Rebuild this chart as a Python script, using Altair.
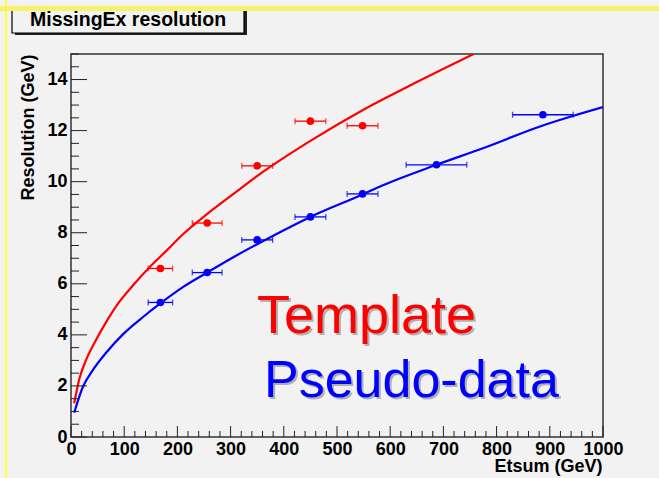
import altair as alt
import pandas as pd

# ---------------- data ----------------
tmpl_x = [168, 256, 350, 450, 548]
tmpl_y = [6.6, 8.38, 10.62, 12.37, 12.19]
tmpl_ex = [23, 28, 29, 29, 29]

pseudo_x = [168, 256, 350, 450, 548, 687, 887]
pseudo_y = [5.27, 6.44, 7.72, 8.62, 9.52, 10.66, 12.62]
pseudo_ex = [23, 28, 29, 29, 29, 57, 57]

tmpl_curve_x = [6, 16, 28, 47, 66, 91, 117, 148, 180, 211, 255, 306, 362, 450, 548, 650, 757]
tmpl_curve_y = [1.32, 2.3, 3.0, 3.8, 4.5, 5.3, 5.95, 6.66, 7.31, 7.95, 8.72, 9.53, 10.4, 11.6, 12.8, 13.9, 15.0]

pseudo_curve_x = [6, 22, 41, 66, 98, 136, 169, 211, 255, 306, 350, 400, 450, 548, 584, 687, 773, 887, 943, 1000]
pseudo_curve_y = [0.95, 1.95, 2.62, 3.3, 4.03, 4.71, 5.25, 5.88, 6.43, 7.05, 7.55, 8.1, 8.62, 9.5, 9.84, 10.66, 11.3, 12.2, 12.57, 12.92]

x_label_values = [0, 100, 200, 300, 400, 500, 600, 700, 800, 900, 1000]
y_label_values = [0, 2, 4, 6, 8, 10, 12, 14]
x_major_ticks = x_label_values
x_minor_ticks = [v for v in range(0, 1001, 20) if v % 100 != 0]
y_major_ticks = y_label_values
y_minor_ticks = [v / 2 for v in range(0, 31) if v % 4 != 0]

title_text = "MissingEx resolution"
x_title = "Etsum (GeV)"
y_title = "Resolution (GeV)"
legend_texts = ["Template", "Pseudo-data"]

RED = "#ff0000"
BLUE = "#0000ff"
BG = "#f2f2f2"
FONT = "Liberation Sans"

W, H = 532, 383

# ---------------- tables ----------------
pts = pd.DataFrame({
    "x": tmpl_x + pseudo_x,
    "y": tmpl_y + pseudo_y,
    "ex": tmpl_ex + pseudo_ex,
    "s": ["Template"] * len(tmpl_x) + ["Pseudo-data"] * len(pseudo_x),
})
pts["xlo"] = pts["x"] - pts["ex"]
pts["xhi"] = pts["x"] + pts["ex"]

curves = pd.DataFrame({
    "x": tmpl_curve_x + pseudo_curve_x,
    "y": tmpl_curve_y + pseudo_curve_y,
    "s": ["Template"] * len(tmpl_curve_x) + ["Pseudo-data"] * len(pseudo_curve_x),
})

xs = alt.Scale(domain=[0, 1000], nice=False, zero=False)
ys = alt.Scale(domain=[0, 15], nice=False, zero=False)
col = alt.Color("s:N", scale=alt.Scale(domain=["Template", "Pseudo-data"], range=[RED, BLUE]), legend=None)

xaxis = alt.Axis(
    values=x_label_values, format="d", ticks=False, grid=False, domain=False,
    labelFont=FONT, labelFontWeight="bold", labelFontSize=18, labelColor="black",
    labelPadding=3, labelFlush=False, labelOverlap=False, labelBound=False,
    title=x_title, titleFont=FONT, titleFontWeight="bold", titleFontSize=18, titleColor="black",
    titleX=W - 1, titleY=34, titleAlign="right", titleBaseline="alphabetic",
)
yaxis = alt.Axis(
    values=y_label_values, format="d", ticks=False, grid=False, domain=False,
    labelFont=FONT, labelFontWeight="bold", labelFontSize=18, labelColor="black",
    labelPadding=4, labelFlush=False, labelOverlap=False, labelBound=False,
    title=y_title, titleFont=FONT, titleFontWeight="bold", titleFontSize=18, titleColor="black",
    titleX=-43, titleY=0, titleAngle=270, titleAlign="right", titleBaseline="middle",
)


def X(f):
    return alt.X(f, type="quantitative", scale=xs, axis=xaxis)


def Y(f):
    return alt.Y(f, type="quantitative", scale=ys, axis=yaxis)


one = pd.DataFrame({"a": [0]})

# ---------------- decorations ----------------
yellow_v = alt.Chart(one).mark_rect(color="#ffff33").encode(
    x=alt.value(-66), x2=alt.value(-64), y=alt.value(-54), y2=alt.value(H + 41))
box_shadow = alt.Chart(one).mark_rect(color="#222222").encode(
    x=alt.value(-56), x2=alt.value(176), y=alt.value(-44), y2=alt.value(-19))
box = alt.Chart(one).mark_rect(fill=BG, stroke="black", strokeWidth=1.2).encode(
    x=alt.value(-59), x2=alt.value(173), y=alt.value(-46), y2=alt.value(-21))
box_text = alt.Chart(one).mark_text(
    text=title_text, font=FONT, fontWeight="bold", fontSize=19.5, align="left",
    baseline="alphabetic", color="black").encode(x=alt.value(-41), y=alt.value(-28))
stripe = alt.Chart(one).mark_rect(color="#f6f26a").encode(
    x=alt.value(-71), x2=alt.value(W + 56), y=alt.value(-48), y2=alt.value(-43))

# ---------------- ticks (inward) ----------------
xmaj = alt.Chart(pd.DataFrame({"v": x_major_ticks})).mark_rule(color="#222", strokeWidth=1).encode(
    x=X("v"), y=alt.value(H), y2=alt.value(H - 11))
xmin = alt.Chart(pd.DataFrame({"v": x_minor_ticks})).mark_rule(color="#222", strokeWidth=1).encode(
    x=X("v"), y=alt.value(H), y2=alt.value(H - 6))
ymaj = alt.Chart(pd.DataFrame({"v": y_major_ticks})).mark_rule(color="#222", strokeWidth=1).encode(
    y=Y("v"), x=alt.value(0), x2=alt.value(16))
ymin = alt.Chart(pd.DataFrame({"v": y_minor_ticks})).mark_rule(color="#222", strokeWidth=1).encode(
    y=Y("v"), x=alt.value(0), x2=alt.value(8))

# ---------------- data marks ----------------
lines = alt.Chart(curves).mark_line(strokeWidth=2.2, interpolate="monotone", clip=True).encode(
    x=X("x"), y=Y("y"), color=col, detail="s:N")
ebar = alt.Chart(pts).mark_rule(strokeWidth=1.3).encode(
    x=X("xlo"), x2="xhi", y=Y("y"), color=col)
cap_lo = alt.Chart(pts).mark_tick(orient="vertical", size=6, thickness=1.3).encode(
    x=X("xlo"), y=Y("y"), color=col)
cap_hi = alt.Chart(pts).mark_tick(orient="vertical", size=6, thickness=1.3).encode(
    x=X("xhi"), y=Y("y"), color=col)
dots = alt.Chart(pts).mark_circle(size=58, opacity=1).encode(
    x=X("x"), y=Y("y"), color=col)

# ---------------- big labels ----------------
def big(text, color, x, y, size):
    sh = alt.Chart(one).mark_text(text=text, font=FONT, fontSize=size, align="left",
                                  baseline="alphabetic", color="#b0b0b0").encode(
        x=alt.value(x + 2), y=alt.value(y + 2))
    fg = alt.Chart(one).mark_text(text=text, font=FONT, fontSize=size, align="left",
                                  baseline="alphabetic", color=color).encode(
        x=alt.value(x), y=alt.value(y))
    return sh + fg

lbl1 = big(legend_texts[0], RED, 186, 279, 54)
lbl2 = big(legend_texts[1], BLUE, 193, 343, 52)

chart = alt.layer(
    yellow_v, box_shadow, box, box_text, stripe,
    lines, ebar, cap_lo, cap_hi, dots,
    xmaj, xmin, ymaj, ymin,
    lbl1, lbl2,
).properties(
    width=W, height=H,
    autosize=alt.AutoSizeParams(type="none"),
    padding={"left": 71, "top": 54, "right": 56, "bottom": 41},
    background=BG,
).configure_view(
    fill=BG, stroke="#333333", strokeWidth=1.5,
)

chart.save("out.html", embed_options={"renderer": "svg", "actions": False})
